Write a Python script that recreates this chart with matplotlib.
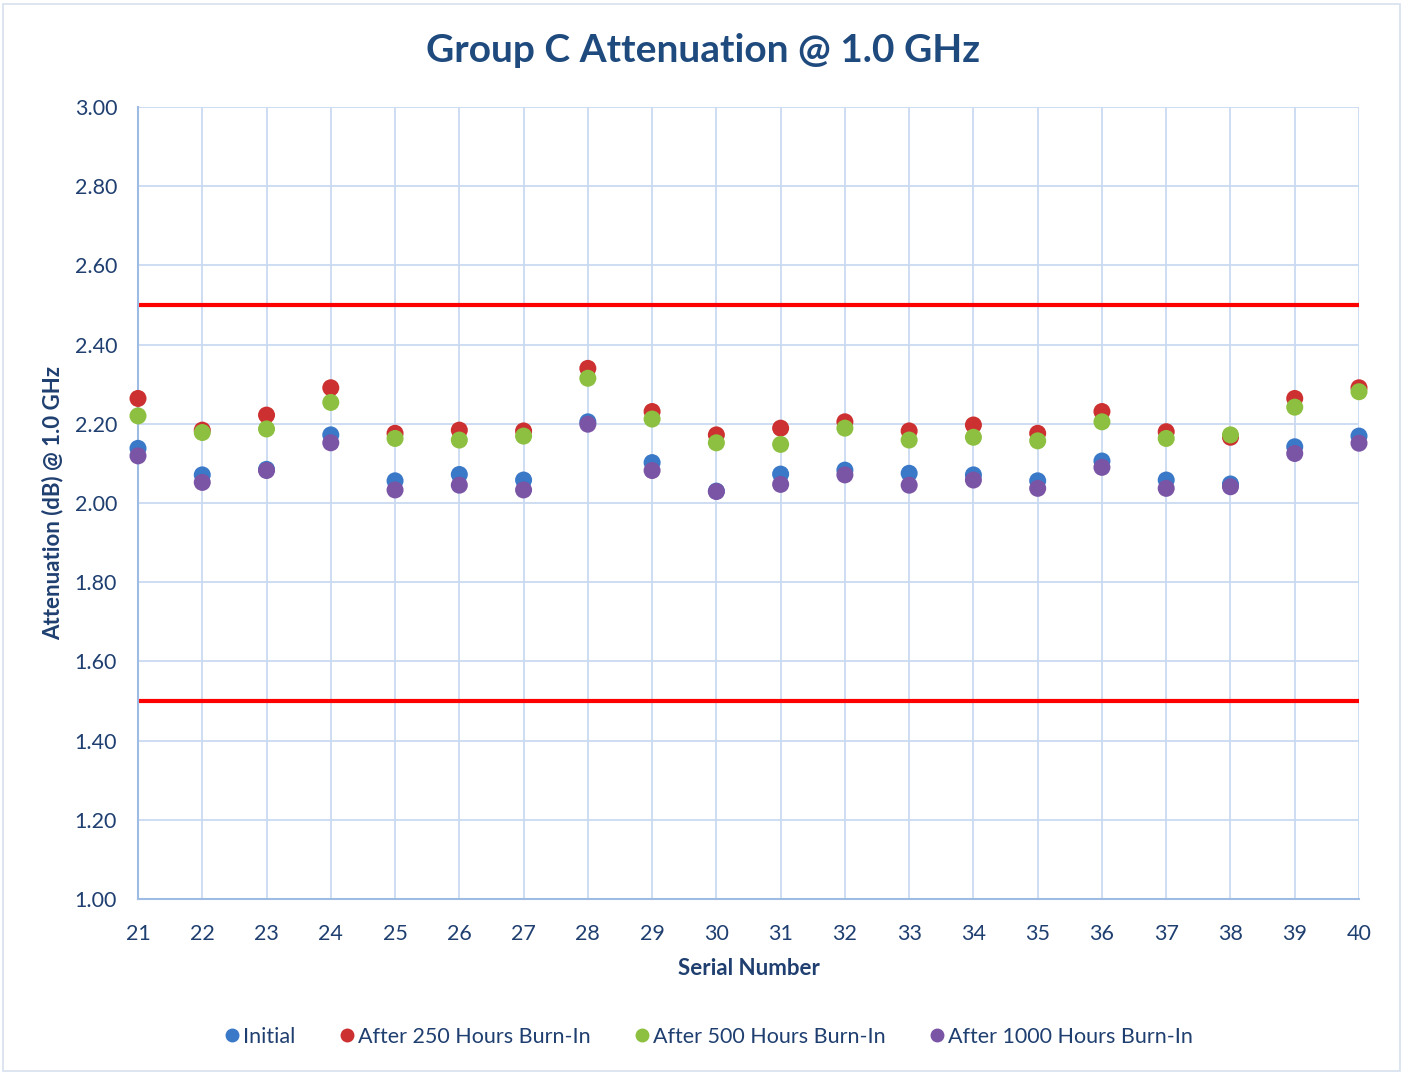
import matplotlib
matplotlib.use("Agg")
import matplotlib.pyplot as plt
from matplotlib.lines import Line2D
from matplotlib.patches import Rectangle

plt.rcParams['font.family'] = ['Lato', 'DejaVu Sans']

serials = list(range(21, 41))
initial = [2.138, 2.071, 2.085, 2.172, 2.056, 2.072, 2.058, 2.205, 2.102, 2.030,
           2.073, 2.083, 2.075, 2.071, 2.056, 2.106, 2.058, 2.048, 2.142, 2.169]
after250 = [2.264, 2.184, 2.222, 2.291, 2.176, 2.184, 2.182, 2.340, 2.231, 2.172,
            2.189, 2.205, 2.182, 2.197, 2.176, 2.231, 2.180, 2.166, 2.264, 2.291]
after500 = [2.220, 2.178, 2.187, 2.254, 2.163, 2.159, 2.169, 2.315, 2.212, 2.152,
            2.148, 2.189, 2.159, 2.166, 2.157, 2.205, 2.163, 2.172, 2.242, 2.281]
after1000 = [2.119, 2.052, 2.082, 2.152, 2.033, 2.045, 2.033, 2.199, 2.082, 2.029,
             2.047, 2.071, 2.045, 2.058, 2.037, 2.090, 2.037, 2.041, 2.125, 2.151]
series_names = ["Initial", "After 250 Hours Burn-In", "After 500 Hours Burn-In",
                "After 1000 Hours Burn-In"]
colors = ["#3A78C8", "#CC3030", "#8DC040", "#7B55A5"]
upper_limit = 2.50
lower_limit = 1.50
yticks = [1.00, 1.20, 1.40, 1.60, 1.80, 2.00, 2.20, 2.40, 2.60, 2.80, 3.00]

text_color = "#1F3F70"
grid_color = "#C9DAF0"

fig = plt.figure(figsize=(14.06, 10.74), dpi=100)
ax = fig.add_axes([138/1406, 1-899/1074, (1359-138)/1406, (899-107)/1074])

# outer border
fig.patches.append(Rectangle((3/1406, 3/1074), 1397/1406, 1067/1074, transform=fig.transFigure,
                             fill=False, edgecolor="#D5E0EE", linewidth=1.2))

ax.set_xlim(21, 40)
ax.set_ylim(1.0, 3.0)
ax.set_xticks(serials)
ax.set_yticks(yticks)
ax.set_yticklabels([f"{v:.2f}" for v in yticks])
ax.grid(True, color=grid_color, linewidth=1.3)
ax.set_axisbelow(True)
for s in ["top", "right"]:
    ax.spines[s].set_visible(False)
for s in ["left", "bottom"]:
    ax.spines[s].set_color("#9DBBE3")
    ax.spines[s].set_linewidth(1.5)
ax.tick_params(length=0, labelsize=15.5, colors=text_color)
ax.tick_params(axis='y', pad=15)
ax.tick_params(axis='x', pad=18)

ax.axhline(upper_limit, color="#FF0000", linewidth=3, zorder=2)
ax.axhline(lower_limit, color="#FF0000", linewidth=3, zorder=2)

for vals, name, c in zip([initial, after250, after500, after1000], series_names, colors):
    ax.scatter(serials, vals, s=150, color=c, zorder=3, clip_on=False, label=name,
               edgecolors='none')

ax.set_xlabel("Serial Number", fontsize=16, fontweight="bold", color=text_color, labelpad=10)
ax.set_ylabel("Attenuation (dB) @ 1.0 GHz", fontsize=16, fontweight="bold", color=text_color, labelpad=8)
fig.text(0.5, 1-50/1074, "Group C Attenuation @ 1.0 GHz", ha="center", va="center",
         fontsize=28, fontweight="bold", color="#1F4A7E")

handles = [Line2D([], [], marker='o', linestyle='none', markersize=9, color=c) for c in colors]
fig.legend(handles, series_names, loc="center", bbox_to_anchor=(0.503, 1-1037/1074), ncol=4,
           frameon=False, fontsize=15.5, handletextpad=0.0, columnspacing=1.9,
           labelcolor=text_color, handlelength=1.0)

fig.savefig("out.png", dpi=100, facecolor="white")
